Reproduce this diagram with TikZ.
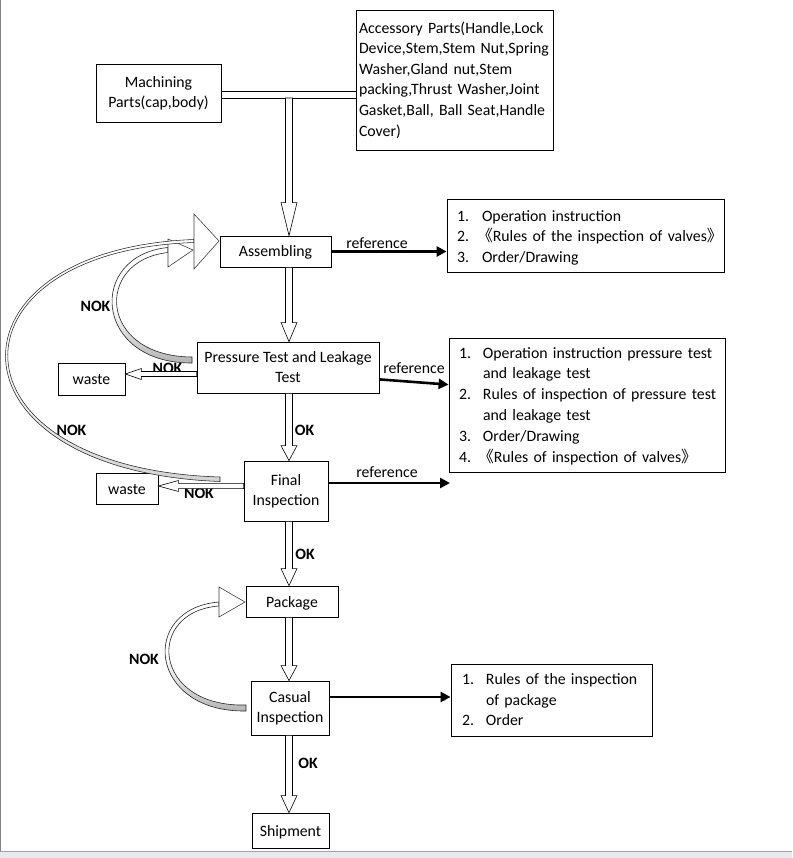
\documentclass[tikz,border=0pt]{standalone}
\usepackage{fontspec}
\setmainfont{Carlito}
\newfontfamily\cjk{Noto Sans CJK SC}
\usetikzlibrary{calc,arrows.meta}
\newcommand\dlq{\kern-5pt{\cjk 《}}
\newcommand\drq{{\cjk 》}}
\begin{document}
\begin{tikzpicture}[x=1pt,y=-1pt,
 every node/.style={inner sep=0pt},
 box/.style={draw, line width=0.8pt, align=center, font=\fontsize{15.8}{20}\selectfont},
 one/.style={text height=12.5pt, text depth=1.5pt},
 lbox/.style={draw, line width=0.8pt, align=left, font=\fontsize{15.8}{20.6}\selectfont},
 lab/.style={font=\fontsize{15.8}{19}\selectfont},
 nok/.style={font=\fontsize{15.8}{19}\selectfont\bfseries},
 harrow/.style n args={3}{draw=black, line width=0.6pt, fill=white,
   to path={let \p1=(\tikztostart), \p2=(\tikztotarget), \p3=($(\p2)!#3!(\p1)$) in
     ($(\p1)!#1!90:(\p2)$) -- ($(\p3)!#1!90:(\p2)$) -- ($(\p3)!#2!90:(\p2)$) -- (\p2)
     -- ($(\p3)!#2!-90:(\p2)$) -- ($(\p3)!#1!-90:(\p2)$) -- ($(\p1)!#1!-90:(\p2)$) -- cycle}},
 refarr/.style={line width=2.6pt, -{Triangle[length=10pt,width=10pt]}},
 band/.style={draw=black!85, line width=0.6pt, top color=white, bottom color=gray!60, middle color=white},
 bandb/.style={draw=black!85, line width=0.55pt, top color=white, bottom color=gray!35, middle color=white},
 head/.style={draw=black!75, line width=0.6pt, fill=white},
]
\useasboundingbox (0,0) rectangle (792,858);
\fill[white] (0,0) rectangle (792,858);
% window chrome
\draw[gray, line width=1pt] (0.5,0) -- (0.5,851);
\fill[blue!8!gray!15] (0,851) rectangle (792,858);
\draw[blue!25!gray!60, line width=0.8pt] (0,851) -- (792,851);

% boxes
\node[box, minimum width=125pt, minimum height=58pt] (mach) at (158.5,93) {Machining\\Parts(cap,body)};
\node[lbox, text width=191pt, inner xsep=3pt, minimum height=140pt] (acc) at (454.5,80)
 {Accessory Parts(Handle,Lock\\Device,Stem,Stem Nut,Spring\\Washer,Gland nut,Stem\\packing,Thrust Washer,Joint\\Gasket,Ball, Ball Seat,Handle\\Cover)};
\node[box, one, minimum width=111pt, minimum height=31pt] (asm) at (275.5,251.5) {Assembling};
\node[box, minimum width=182pt, minimum height=51pt] (pt) at (288,367.5) {Pressure Test and Leakage\\Test};
\node[box, minimum width=84pt, minimum height=60pt] (fin) at (286,491) {Final\\Inspection};
\node[box, one, minimum width=92pt, minimum height=31pt] (pkg) at (292,601.5) {Package};
\node[box, minimum width=78pt, minimum height=54pt] (cas) at (290,708) {Casual\\Inspection};
\node[box, one, minimum width=77pt, minimum height=35pt] (ship) at (290.5,830.5) {Shipment};
\node[box, one, minimum width=67pt, minimum height=32pt] (w1) at (91.5,379) {waste};
\node[box, one, minimum width=62pt, minimum height=31pt] (w2) at (127,488.5) {waste};

\node[lbox, text width=257pt, inner xsep=10pt, minimum height=73pt] (r1) at (585.5,235.5)
 {\raisebox{-2pt}[\height][\depth]{\begin{tabular}{@{}p{25pt}@{}l@{}}1.&Operation instruction\\2.&\dlq Rules of the inspection of valves\drq\\3.&Order/Drawing\end{tabular}}};
\node[lbox, text width=256pt, inner xsep=10pt, minimum height=134pt, font=\fontsize{15.8}{20.8}\selectfont] (r2) at (587,405)
 {\raisebox{-1pt}[\height][\depth]{\begin{tabular}{@{}p{24pt}@{}l@{}}1.&\makebox[232pt][s]{Operation instruction pressure test}\\&and leakage test\\2.&\makebox[232pt][s]{Rules of inspection of pressure test}\\&and leakage test\\3.&Order/Drawing\\4.&\dlq Rules of inspection of valves\drq\end{tabular}}};
\node[lbox, text width=179pt, inner xsep=11pt, minimum height=72pt] (r4) at (551.5,700)
 {\raisebox{-1pt}[\height][\depth]{\begin{tabular}{@{}p{24pt}@{}l@{}}1.&Rules of the inspection\\&of package\\2.&Order\end{tabular}}};

% labels
\node[lab] (ref1l) at (377,243) {reference};
\node[lab] (ref2l) at (414,368) {reference};
\node[lab] (ref3l) at (387,472) {reference};
\node[nok] (nok1) at (95.5,306) {NOK};
\node[nok] (nok2) at (167.5,368) {NOK};
\node[nok] (nok3) at (71.5,430) {NOK};
\node[nok] (nok4) at (199,493) {NOK};
\node[nok] (ok1) at (304.5,430) {OK};
\node[nok] (ok2) at (305,554) {OK};
\node[nok] (nok5) at (144,659) {NOK};
\node[nok] (ok3) at (308,763) {OK};

% feed bar
\coordinate (barT) at (289,91);
\coordinate (barB) at (289,98);
\draw[line width=0.8pt] (mach.east |- barT) -- (acc.west |- barT);
\draw[line width=0.8pt] (mach.east |- barB) -- (acc.west |- barB);

% main hollow arrows
\draw[harrow={3.5pt}{8pt}{33pt}] (barB) to (asm.north -| barB);
\draw[harrow={3.5pt}{8pt}{19pt}] (asm.south -| barB) to (pt.north -| barB);
\draw[harrow={3.5pt}{8pt}{15pt}] (pt.south -| barB) to (fin.north -| barB);
\draw[harrow={3.5pt}{8pt}{17pt}] (fin.south -| barB) to (pkg.north -| barB);
\draw[harrow={3.5pt}{8pt}{15pt}] (pkg.south -| barB) to (cas.north -| barB);
\draw[harrow={3.5pt}{8pt}{17pt}] (cas.south -| barB) to (ship.north -| barB);

% waste arrows
\coordinate (w1s) at ([yshift=-6.5pt]pt.west);
\draw[harrow={2.5pt}{5.5pt}{16pt}] (w1s) to (w1s -| w1.east);
\coordinate (w2s) at ([yshift=5pt]fin.west);
\draw[harrow={2.6pt}{5.5pt}{20pt}] (w2s) to (w2s -| w2.east);

% reference arrows
\draw[refarr] (asm.east) -- (asm.east -| r1.west);
\coordinate (p2s) at ([yshift=14pt]pt.south east);
\coordinate (p2e) at ([yshift=-47pt]r2.north west);
\draw[refarr] (p2s) -- (p2e);
\coordinate (f3s) at ([yshift=8pt]fin.east);
\coordinate (f3e) at (450,483);
\draw[refarr] (f3s) -- (f3e);
\coordinate (c4s) at ([yshift=11pt]cas.east);
\draw[refarr] (c4s) -- (c4s -| r4.west);

% curved NOK arrows
\path[band] (192,357) .. controls (98,356.5) and (94,260.5) .. (168,252.5) -- (168,247.5) .. controls (87,255.5) and (93,363.5) .. (192,363) -- cycle;
\path[head] (168,239) -- (193,250) -- (168,267) -- cycle;
\path[bandb] (220,477) .. controls (-58.5,468.5) and (-58.5,251) .. (194,242.5) -- (194,239.5) .. controls (-61.5,249) and (-61.5,471) .. (220,481.5) -- cycle;
\path[head] (194,214) -- (219,241) -- (194,269) -- cycle;
\path[band] (246,705) .. controls (152,707.5) and (145,611.5) .. (219,606) -- (219,602) .. controls (139,608.5) and (148,712.5) .. (246,711) -- cycle;
\path[head] (219,587) -- (245,602) -- (219,617) -- cycle;
\end{tikzpicture}
\end{document}
